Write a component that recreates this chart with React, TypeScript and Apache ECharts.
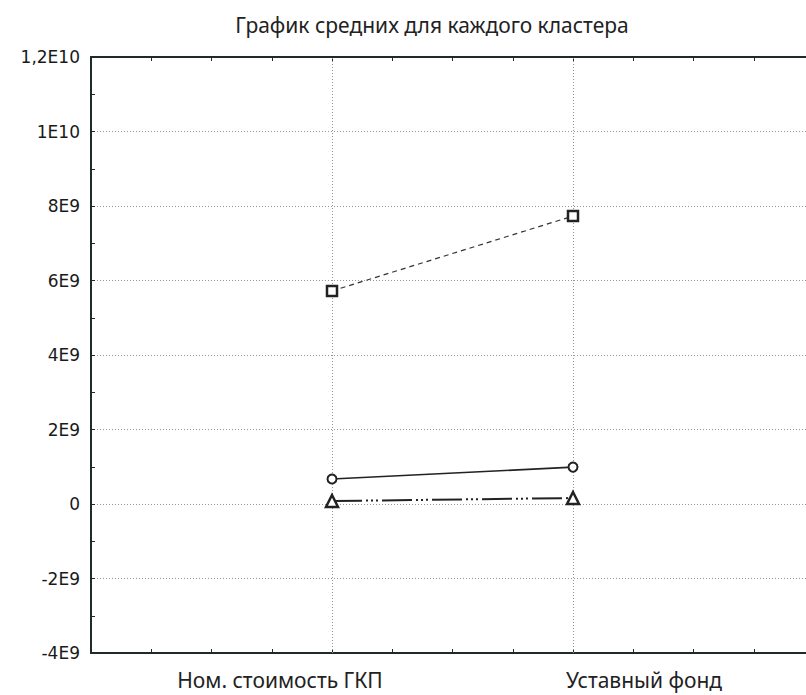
import React, { useEffect, useRef } from "react";
import * as echarts from "echarts";

const title = "График средних для каждого кластера";
const categories = ["Ном. стоимость ГКП", "Уставный фонд"];
const categoryPositions = [1, 2];
const yTickLabels = ["-4E9", "-2E9", "0", "2E9", "4E9", "6E9", "8E9", "1E10", "1,2E10"];
const seriesNames = ["Кластер 1", "Кластер 2", "Кластер 3"];
const squareValues = [5.72e9, 7.73e9];
const circleValues = [0.67e9, 0.99e9];
const triangleValues = [0.08e9, 0.16e9];

export default function App() {
  const ref = useRef<HTMLDivElement>(null);
  useEffect(() => {
    if (!ref.current) return;
    const chart = echarts.init(ref.current, null, { renderer: "svg" });
    const axisColor = "#1f2a2a";
    const gridColor = "#8a9a9a";
    const pts = (vals: number[]) => vals.map((v, i) => [categoryPositions[i], v]);
    const labelFont = { fontFamily: "Noto Sans", fontSize: 21, color: "#222" };
    chart.setOption({
      animation: false,
      title: {
        text: title,
        left: 427,
        top: 9,
        textAlign: "center",
        textStyle: { fontFamily: "Noto Sans", fontSize: 21, fontWeight: "normal", color: "#222" },
      },
      grid: { left: 91, top: 57, width: 723, height: 596 },
      xAxis: [
        {
          type: "value",
          min: 0,
          max: 3,
          interval: 1,
          axisLine: { show: true, onZero: false, lineStyle: { color: axisColor, width: 2 } },
          axisTick: { show: true, inside: true, length: 4, lineStyle: { color: axisColor } },
          minorTick: { show: true, splitNumber: 4, length: 4, lineStyle: { color: axisColor } },
          axisLabel: {
            show: true,
            margin: 16,
            showMinLabel: false,
            showMaxLabel: false,
            formatter: (v: number) => {
              const i = categoryPositions.indexOf(Math.round(v));
              if (i === 0) return "{a|" + categories[0] + "}";
              if (i === 1) return "{b|" + categories[1] + "}";
              return "";
            },
            rich: {
              a: { ...labelFont, padding: [0, 104, 0, 0] },
              b: { ...labelFont, padding: [0, 0, 0, 142] },
            },
          },
          splitLine: { show: false },
        },
        {
          type: "value",
          position: "top",
          min: 0,
          max: 3,
          interval: 1,
          axisLine: { show: true, onZero: false, lineStyle: { color: axisColor, width: 2 } },
          axisTick: { show: true, inside: true, length: 4, lineStyle: { color: axisColor } },
          minorTick: { show: true, splitNumber: 4, length: 4, lineStyle: { color: axisColor } },
          axisLabel: { show: false },
          splitLine: { show: false },
        },
      ],
      yAxis: {
        type: "value",
        min: -4e9,
        max: 1.2e10,
        interval: 2e9,
        axisLine: { show: true, onZero: false, lineStyle: { color: axisColor, width: 2 } },
        axisTick: { show: true, inside: true, length: 4, lineStyle: { color: axisColor } },
        minorTick: { show: true, splitNumber: 2, length: 4, lineStyle: { color: axisColor } },
        axisLabel: {
          margin: 11,
          fontFamily: "DejaVu Sans",
          fontSize: 17,
          color: "#1a1a1a",
          formatter: (v: number) => {
            const idx = Math.round((v + 4e9) / 2e9);
            return yTickLabels[idx] ?? "";
          },
        },
        splitLine: { show: true, lineStyle: { color: gridColor, type: [1, 2], width: 1 } },
      },
      series: [
        {
          name: "grid",
          type: "line",
          data: [],
          z: 1,
          silent: true,
          markLine: {
            silent: true,
            symbol: "none",
            label: { show: false },
            lineStyle: { color: gridColor, type: [1, 2], width: 1 },
            data: categoryPositions.map((p) => ({ xAxis: p })),
          },
        },
        {
          name: seriesNames[0],
          type: "line",
          data: pts(squareValues),
          symbol: "rect",
          symbolSize: 10,
          itemStyle: { color: "#fff", borderColor: "#222", borderWidth: 2.5 },
          lineStyle: { color: "#333", width: 1.2, type: [5, 4] },
          z: 5,
        },
        {
          name: seriesNames[1],
          type: "line",
          data: pts(circleValues),
          symbol: "circle",
          symbolSize: 9,
          itemStyle: { color: "#fff", borderColor: "#222", borderWidth: 2 },
          lineStyle: { color: "#222", width: 1.6, type: "solid" },
          z: 5,
        },
        {
          name: seriesNames[2],
          type: "line",
          data: pts(triangleValues),
          symbol: "triangle",
          symbolSize: 12,
          itemStyle: { color: "#fff", borderColor: "#222", borderWidth: 2.5 },
          lineStyle: { color: "#222", width: 2, type: [30, 4, 2, 3, 2, 3, 2, 4] },
          z: 5,
        },
      ],
    });
    return () => chart.dispose();
  }, []);
  return (
    <div style={{ position: "absolute", left: 0, top: 0, width: 806, height: 695, overflow: "hidden", background: "#fff" }}>
      <div ref={ref} style={{ width: 830, height: 695 }} />
    </div>
  );
}
